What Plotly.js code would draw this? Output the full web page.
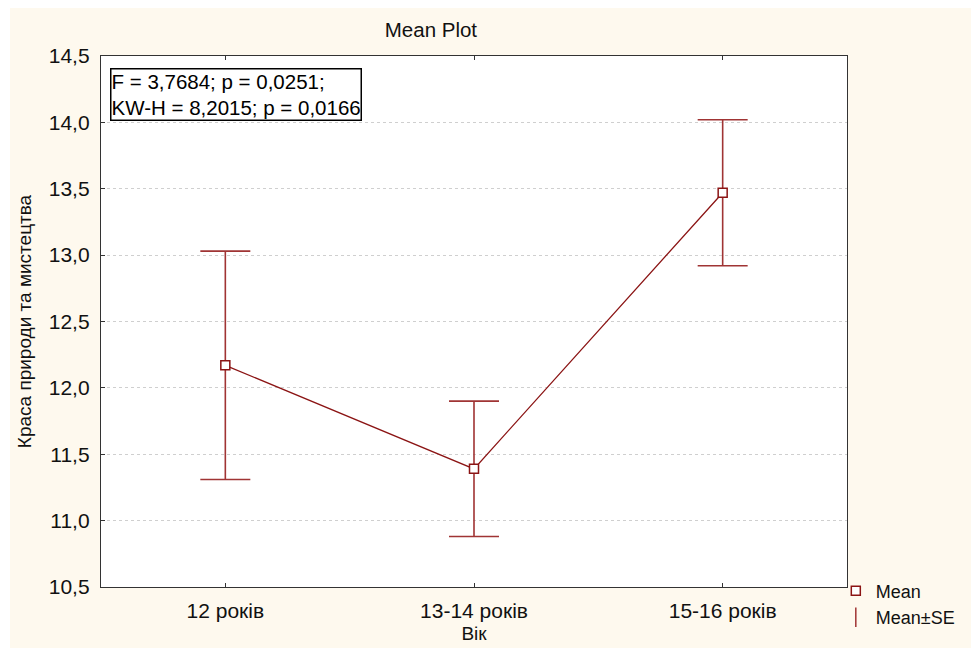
<!DOCTYPE html>
<html>
<head>
<meta charset="utf-8">
<script src="https://cdn.plot.ly/plotly-3.0.1.min.js"></script>
<style>
  html, body { margin: 0; padding: 0; background: #ffffff; }
  #chart { position: absolute; left: 10px; top: 8px; width: 961px; height: 640px; }
</style>
</head>
<body>
<div id="chart"></div>
<script>
// Data
const categories = ["12 років", "13-14 років", "15-16 років"];
const means = [12.17, 11.39, 13.47];
const se = [0.86, 0.51, 0.55];
const yTicks = [10.5, 11.0, 11.5, 12.0, 12.5, 13.0, 13.5, 14.0, 14.5];
const titleText = "Mean Plot";
const xTitle = "Вік";
const yTitle = "Краса природи та мистецтва";
const statsText = "F = 3,7684; p = 0,0251;<br>KW-H = 8,2015; p = 0,0166";

const lineColor = "#8B1414";
const errColor = "#A03434";
const font = "Liberation Sans, Arial, sans-serif";

const traces = [
  {
    x: categories, y: means, type: "scatter", mode: "lines",
    line: { color: lineColor, width: 1.3 },
    error_y: { type: "data", array: se, visible: true, color: errColor, thickness: 1.6, width: 25 },
    showlegend: false, hoverinfo: "skip"
  },
  {
    x: categories, y: means, type: "scatter", mode: "markers", name: "Mean",
    marker: { symbol: "square", size: 9, color: "#ffffff", line: { color: lineColor, width: 1.5 } }
  },
  {
    x: [null], y: [null], type: "scatter", mode: "markers", name: "Mean±SE",
    marker: { symbol: "line-ns-open", size: 14, color: errColor, line: { color: errColor, width: 1.5 } }
  }
];

const layout = {
  width: 961, height: 640,
  paper_bgcolor: "#FEF9EE",
  plot_bgcolor: "#ffffff",
  separators: ", ",
  font: { family: font, size: 20, color: "#111" },
  margin: { l: 91, r: 124, t: 48, b: 61, autoexpand: false },
  title: {
    text: titleText, font: { family: font, size: 20.5, color: "#111" },
    xref: "container", yref: "container", x: 0.438, xanchor: "center", y: 0.966, yanchor: "middle"
  },
  xaxis: {
    type: "category", range: [-0.5, 2.5],
    showgrid: false, zeroline: false,
    showline: true, linecolor: "#333", linewidth: 1.2, mirror: "ticks",
    ticks: "inside", ticklen: 4, tickcolor: "#333",
    tickfont: { family: font, size: 21, color: "#111" },
    ticklabelstandoff: 5,
    title: { text: xTitle, font: { family: font, size: 19, color: "#111" }, standoff: 5 }
  },
  yaxis: {
    range: [10.5, 14.5], tickvals: yTicks, tickformat: ".1f",
    showgrid: true, gridcolor: "#cfcfcf", griddash: "dot", gridwidth: 1,
    zeroline: false,
    showline: true, linecolor: "#333", linewidth: 1.2, mirror: true,
    ticks: "inside", ticklen: 4, tickcolor: "#333",
    tickfont: { family: font, size: 21, color: "#111" },
    ticklabelstandoff: 6,
    title: { text: yTitle, font: { family: font, size: 19, color: "#111" }, standoff: 12 }
  },
  annotations: [{
    text: statsText, xref: "paper", yref: "paper", x: 0.012, y: 0.977,
    xanchor: "left", yanchor: "top", align: "left", showarrow: false,
    bgcolor: "#ffffff", bordercolor: "#000", borderwidth: 1.5, borderpad: 0,
    font: { family: font, size: 20.5, color: "#000" }
  }],
  legend: {
    x: 0.985, xanchor: "left", y: 0.027, yanchor: "top",
    bgcolor: "rgba(0,0,0,0)", borderwidth: 0,
    font: { family: font, size: 18, color: "#111" },
    itemwidth: 30, tracegroupgap: 0
  }
};

Plotly.newPlot("chart", traces, layout, { displayModeBar: false, staticPlot: true });
</script>
</body>
</html>
